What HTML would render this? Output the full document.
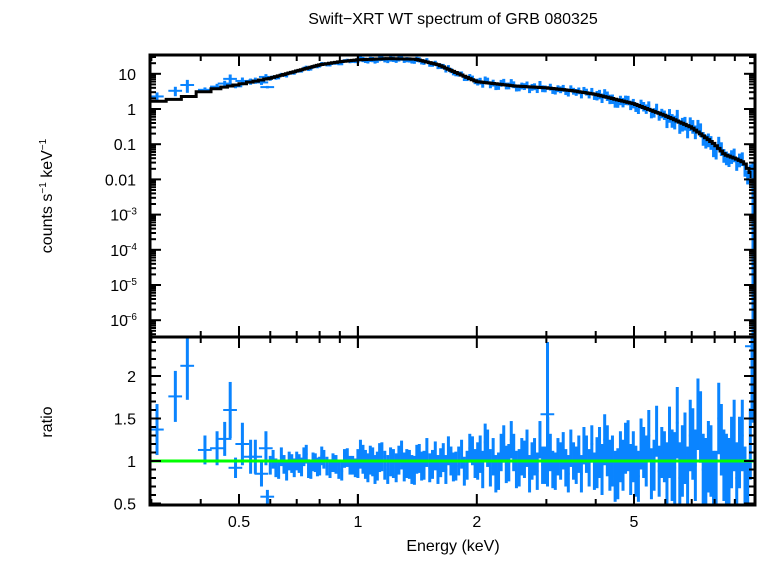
<!DOCTYPE html>
<html><head><meta charset="utf-8"><style>
body{margin:0;background:#fff}
svg text{font-family:"Liberation Sans",sans-serif;fill:#000}
</style></head><body>
<svg id="c" width="758" height="556" xmlns="http://www.w3.org/2000/svg">
<text x="453" y="24" font-size="16" text-anchor="middle">Swift−XRT WT spectrum of GRB 080325</text>
<text transform="translate(52,196) rotate(-90)" font-size="16" text-anchor="middle">counts s<tspan font-size="10" dy="-6">−1</tspan><tspan dy="6"> keV</tspan><tspan font-size="10" dy="-6">−1</tspan></text>
<text transform="translate(52,422) rotate(-90)" font-size="16" text-anchor="middle">ratio</text>
<text x="453" y="551" font-size="16" text-anchor="middle">Energy (keV)</text>
<g id="g"></g>
</svg>
<script>
const modelE=[0.30,0.35,0.40,0.45,0.50,0.60,0.70,0.80,0.90,1.00,1.20,1.40,1.60,1.80,2.00,2.50,3.00,3.50,4.00,5.00,6.00,7.00,8.00,8.50,9.00,9.50,10.1];
const modelV=[1.6,1.9,2.9,4.0,5.0,7.5,12,18,22,25,27,26,18,10,6,4.5,4.0,3.3,2.6,1.4,0.65,0.3,0.1,0.05,0.04,0.03,0.01];
const lowE=[0.31,0.345,0.37,0.41,0.44,0.46,0.475,0.49,0.51,0.535,0.55,0.57,0.585,0.59,3.02,9.95];
const lowR=[1.37,1.76,2.12,1.13,1.15,1.26,1.60,0.92,1.20,1.05,1.05,0.85,1.15,0.58,1.55,2.35];
const lowErr=[0.30,0.30,0.40,0.17,0.20,0.20,0.33,0.12,0.25,0.20,0.20,0.15,0.20,0.08,0.85,0.90];
const binE=[0.60,0.62,0.64,0.66,0.68,0.70,0.72,0.74,0.76,0.78,0.80,0.82,0.85,0.88,0.91,0.94,0.97,1.00,1.03,1.06,1.09,1.12,1.15,1.19,1.23,1.27,1.31,1.35,1.39,1.43,1.47,1.52,1.57,1.62,1.67,1.72,1.77,1.83,1.89,1.95,2.01,2.07,2.13,2.20,2.27,2.34,2.41,2.48,2.56,2.64,2.72,2.80,2.89,2.98,3.07,3.16,3.26,3.36,3.46,3.57,3.68,3.79,3.91,4.03,4.15,4.28,4.41,4.55,4.69,4.83,4.98,5.13,5.29,5.45,5.62,5.79,5.97,6.15,6.34,6.53,6.73,6.94,7.15,7.37,7.60,7.83,8.07,8.32,8.57,8.83,9.10,9.40,9.70];
const binR=[0.95,0.92,1.05,0.88,0.97,1.00,0.93,1.08,0.90,0.98,0.94,1.02,0.91,0.96,0.88,1.04,0.95,0.97,1.02,0.92,0.99,0.94,1.05,0.90,0.97,1.01,0.93,0.96,0.89,1.03,0.95,0.92,1.06,0.98,0.90,1.00,0.94,1.08,0.95,1.12,1.00,0.90,1.15,1.05,0.88,1.20,0.98,1.10,0.92,1.02,0.85,1.05,1.25,0.95,1.10,0.88,1.00,0.92,1.15,0.95,0.85,1.08,1.20,0.98,0.90,1.12,1.00,0.85,0.95,1.18,1.05,0.82,1.10,1.30,0.95,0.88,1.05,1.22,0.92,0.80,1.15,1.30,0.95,1.40,0.85,1.00,0.70,1.25,0.90,1.10,0.80,1.30,0.60];
const binR2=[1.02,0.90,0.96,1.00,0.92,0.97,1.05,0.91,0.99,0.93,1.06,0.94,0.98,0.90,1.03,0.95,0.92,1.08,0.96,1.01,0.90,1.04,0.95,0.99,0.92,1.07,0.97,0.90,1.02,0.94,1.10,0.96,0.90,1.04,1.12,0.93,1.00,0.88,1.15,0.97,1.08,1.22,0.92,0.85,1.10,0.96,1.25,0.90,1.05,1.15,1.00,0.88,0.95,1.30,0.90,1.05,1.12,0.85,1.00,1.08,1.18,0.92,0.88,1.10,1.25,0.95,0.82,1.05,1.15,0.90,0.88,1.20,1.00,0.85,1.35,1.10,0.80,0.95,1.45,1.00,0.75,1.20,1.55,0.90,1.05,0.70,1.50,0.95,0.85,1.30,1.10,0.75,1.20];
const xTicks=[0.5,1,2,5];
const yTicksTop=[10,1,0.1,0.01,1e-3,1e-4,1e-5,1e-6];
const yLabelsTop=["10","1","0.1","0.01","10|−3","10|−4","10|−5","10|−6"];
const rTicks=[0.5,1,1.5,2];

const L=150,R=755,T=55,M=337,B=505;
const X=e=>239+(Math.log10(e)-Math.log10(0.5))*395;
const YT=v=>109-Math.log10(v)*35.2;
const YR=r=>461-(r-1)*85;
const ns="http://www.w3.org/2000/svg",g=document.getElementById('g');
function el(t,a){const e=document.createElementNS(ns,t);for(const k in a)e.setAttribute(k,a[k]);g.appendChild(e);return e;}
function modelAt(e){for(let i=0;i<modelE.length-1;i++){if(e<modelE[i+1]){const f=(Math.log(e)-Math.log(modelE[i]))/(Math.log(modelE[i+1])-Math.log(modelE[i]));return Math.exp(Math.log(modelV[i])*(1-f)+Math.log(modelV[i+1])*f);}}return modelV[modelV.length-1];}
function errOf(e){return e<1?0.11:e<2?0.17:e<4?0.22:e<6?0.3:0.42;}
const blue="#0a84ff";
const pts=[];
lowE.forEach((e,i)=>pts.push([e,lowR[i],lowErr[i],e*0.04]));
binE.forEach((e,i)=>pts.push([e,binR[i],errOf(e),e*0.008]));
binE.forEach((e,i)=>{const e2=i<binE.length-1?Math.sqrt(e*binE[i+1]):9.85;pts.push([e2,binR2[i],errOf(e2),e2*0.008]);});
pts.forEach(p=>{
 const [e,r,er,hw]=p;
 const x0=Math.max(L,X(e-hw)),x1=Math.min(R,X(e+hw)),xc=X(e);
 const y=YR(r),ya=Math.max(M,YR(r+er)),yb=Math.min(B,YR(r-er));
 let a=el('line',{x1:x0,x2:x1,y1:y,y2:y,stroke:blue,'stroke-width':2});
 
 a=el('line',{x1:xc,x2:xc,y1:ya,y2:yb,stroke:blue,'stroke-width':3});
 
 if(e<9.9&&!(e>3&&e<3.05)){const m=modelAt(e),v=m*r,yc=YT(v),eu=YT(v*(1+er)),ed=YT(v*Math.max(0.2,1-er));
 a=el('line',{x1:x0,x2:x1,y1:yc,y2:yc,stroke:blue,'stroke-width':2});
 
 a=el('line',{x1:xc,x2:xc,y1:Math.max(T,eu),y2:ed,stroke:blue,'stroke-width':3});
 }
});
const sorted=pts.filter(p=>p[0]<9.9&&!(p[0]>3&&p[0]<3.05)).sort((a,b)=>a[0]-b[0]);
let d='';
sorted.forEach((p,i)=>{const xa=i==0?L:X(Math.sqrt(sorted[i-1][0]*p[0]));const xb=i==sorted.length-1?X(9.9):X(Math.sqrt(p[0]*sorted[i+1][0]));const y=YT(modelAt(p[0]));d+=(i?`L${xa},${y}`:`M${xa},${y}`)+`L${xb},${y}`;});
d+=`L${X(9.9)},${YT(0.012)}H${R}`;
let mp=el('path',{d:d,fill:'none',stroke:'#000','stroke-width':3});

el('path',{d:`M${R-2},${YT(0.03)}V${M}`,stroke:blue,'stroke-width':3,fill:'none'});
let gl=el('line',{x1:L,x2:R,y1:YR(1),y2:YR(1),stroke:'#00ff00','stroke-width':3});

let f=el('rect',{x:L,y:T,width:R-L,height:M-T,fill:'none',stroke:'#000','stroke-width':3});

f=el('rect',{x:L,y:M,width:R-L,height:B-M,fill:'none',stroke:'#000','stroke-width':3});

const minorX=[0.3,0.4,0.6,0.7,0.8,0.9,3,4,6,7,8,9];
[[T,1],[M,-1],[M,1],[B,-1]].forEach(([y0,s])=>{
 minorX.forEach(e=>el('line',{x1:X(e),x2:X(e),y1:y0,y2:y0+s*6,stroke:'#000','stroke-width':2}));
 xTicks.concat([1]).forEach(e=>el('line',{x1:X(e),x2:X(e),y1:y0,y2:y0+s*11,stroke:'#000','stroke-width':2}));
});
xTicks.forEach(e=>{const t=el('text',{x:X(e),y:527,'font-size':16,'text-anchor':'middle'});t.textContent=String(e);
 });
for(let k=-7;k<=1;k++)for(let m=1;m<10;m++){const v=m*Math.pow(10,k);const y=YT(v);if(y<T||y>M)continue;const w=m==1?11:6;
 el('line',{x1:L,x2:L+w,y1:y,y2:y,stroke:'#000','stroke-width':2});el('line',{x1:R,x2:R-w,y1:y,y2:y,stroke:'#000','stroke-width':2});}
yTicksTop.forEach((v,i)=>{const y=YT(v)+6,parts=yLabelsTop[i].split('|');const t=el('text',{x:parts.length>1?128:136,y:y,'font-size':16,'text-anchor':'end'});
 
 t.textContent=parts[0];if(parts.length>1){const s=el('text',{x:137,y:y-6,'font-size':10,'text-anchor':'end'});s.textContent=parts[1];
 }});
for(let r=0.5;r<=2.45;r+=0.1){const y=YR(r);const maj=Math.abs(r*2-Math.round(r*2))<0.01;const w=maj?11:6;
 el('line',{x1:L,x2:L+w,y1:y,y2:y,stroke:'#000','stroke-width':2});el('line',{x1:R,x2:R-w,y1:y,y2:y,stroke:'#000','stroke-width':2});}
rTicks.forEach(r=>{const t=el('text',{x:136,y:YR(r)+6,'font-size':16,'text-anchor':'end'});t.textContent=String(r);
 });
</script>
</body></html>
